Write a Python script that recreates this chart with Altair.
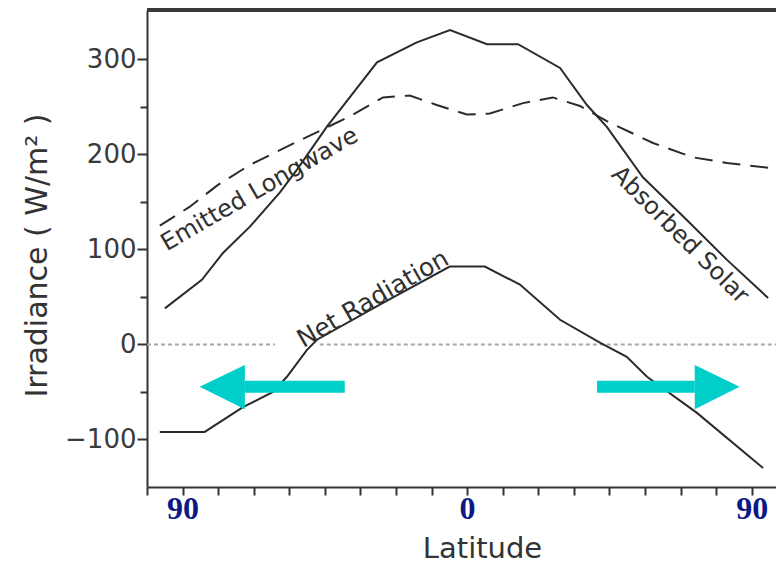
import altair as alt
import pandas as pd

# ---------------- data ----------------
X_MIN, X_MAX = -101.25, 97.7
Y_MIN, Y_MAX = -150, 352

x_ticks = [-101.25, -90, -78.75, -67.5, -56.25, -45, -33.75, -22.5, -11.25,
           0, 11.25, 22.5, 33.75, 45, 56.25, 67.5, 78.75, 90]
y_ticks = [-100, -50, 0, 50, 100, 150, 200, 250, 300]

solar_lat = [-95.6, -83.9, -77.3, -68.7, -59.2, -53.8, -44.4, -28.5, -15.9, -5.4,
             6.3, 16.1, 29.4, 37.9, 44.2, 55.6, 69.5, 82.2, 95.2]
solar_val = [38, 68, 96, 124, 160, 184, 229, 297, 318, 331,
             316, 316, 291, 252, 229, 176, 131, 89, 49]

lw_lat = [-97.2, -87.7, -78.8, -68.7, -52.8, -37.1, -26.6, -18.1, -9.6, -0.1,
          7.2, 17.7, 27.1, 35.7, 44.2, 58.8, 71.4, 82.2, 95.2]
lw_val = [125, 145, 168, 189, 215, 240, 260, 262, 252, 242,
          243, 254, 260, 251, 235, 212, 197, 191, 186]

net_lat = [-97.2, -83.0, -70.9, -61.4, -57.0, -50.7, -47.5, -27.6, -5.5, 5.6,
           16.7, 29.4, 42.0, 50.5, 56.9, 72.7, 93.6]
net_val = [-92, -92, -66, -50, -34, -6, 5, 42, 82, 82,
           63, 26, 2, -13, -34, -72, -130]

zero_start = [X_MIN, -46.6]
zero_end = [-60.8, X_MAX]

label_text = ["Emitted Longwave", "Absorbed Solar", "Net Radiation"]
label_lat = [-65.6, 67.3, -29.8]
label_val = [163, 115, 48]
label_angle = [330, 45, 330]
label_size = [24, 24, 25]

shaft_start = [-70.3, 41.1]
shaft_end = [-38.7, 72.0]
shaft_val = [-44.5, -44.5]
head_base = [-70.3, 72.0]
head_tip = [-84.6, 86.2]
head_top = [-21.6, -21.6]
head_bottom = [-68.2, -68.2]

CYAN = "#00CEC8"
INK = "#2b2b2b"

# ---------------- encodings ----------------
x_axis = alt.Axis(
    values=x_ticks,
    labelExpr="datum.value == 0 ? '0' : (abs(datum.value) == 90 ? '90' : '')",
    labelFont="Liberation Serif", labelFontWeight="bold", labelFontSize=32,
    labelColor="#0c1a86", labelPadding=-2, labelFlush=False,
    tickSize=8, tickWidth=2, tickColor="#333333",
    domainWidth=2, domainColor="#333333", grid=False,
    title="Latitude", titleFont="DejaVu Sans", titleFontSize=29,
    titleFontWeight="normal", titleColor="#333333",
    titleX=335, titleY=47, titleAlign="center", titleBaseline="top",
)
y_axis = alt.Axis(
    values=y_ticks,
    labelExpr="datum.value == 0 ? '0\u2007' : (datum.value % 100 == 0 ? datum.label : '')",
    labelFont="DejaVu Sans", labelFontSize=26, labelColor="#3a3a3a",
    labelPadding=1,
    tickSize={"condition": {"test": "datum.value % 100 != 0", "value": 7}, "value": 10},
    tickWidth=2, tickColor="#333333",
    domainWidth=2, domainColor="#333333", grid=False,
    title="Irradiance ( W/m\u00b2 )", titleFont="DejaVu Sans", titleFontSize=30,
    titleFontWeight="normal", titleColor="#333333",
    titleAngle=270, titleX=-110, titleY=245, titleAlign="center", titleBaseline="middle",
)
xs = alt.Scale(domain=[X_MIN, X_MAX], nice=False, zero=False)
ys = alt.Scale(domain=[Y_MIN, Y_MAX], nice=False, zero=False)


def X(f):
    return alt.X(f, type="quantitative", scale=xs, axis=x_axis, title="Latitude")


def Y(f):
    return alt.Y(f, type="quantitative", scale=ys, axis=y_axis, title="Irradiance ( W/m\u00b2 )")


solar = pd.DataFrame({"lat": solar_lat, "val": solar_val})
lw = pd.DataFrame({"lat": lw_lat, "val": lw_val})
net = pd.DataFrame({"lat": net_lat, "val": net_val})
zero = pd.DataFrame({"lat": zero_start, "lat2": zero_end, "val": [0, 0]})
labels = pd.DataFrame({"lat": label_lat, "val": label_val, "text": label_text,
                       "angle": label_angle, "size": label_size})
shafts = pd.DataFrame({"lat": shaft_start, "lat2": shaft_end, "val": shaft_val})
heads = pd.DataFrame({
    "side": ["L", "L", "R", "R"],
    "lat": [head_tip[0], head_base[0], head_base[1], head_tip[1]],
    "val": [shaft_val[0], head_top[0], head_top[1], shaft_val[1]],
    "val2": [shaft_val[0], head_bottom[0], head_bottom[1], shaft_val[1]],
})
frame = pd.DataFrame({"lat": [X_MIN], "lat2": [X_MAX], "val": [Y_MAX]})

zero_layer = alt.Chart(zero).mark_rule(
    color="#a8a8a8", strokeWidth=2, strokeDash=[4, 3]
).encode(x=X("lat"), x2="lat2", y=Y("val"))

solar_layer = alt.Chart(solar).mark_line(color=INK, strokeWidth=2).encode(
    x=X("lat"), y=Y("val"))
lw_layer = alt.Chart(lw).mark_line(color=INK, strokeWidth=2, strokeDash=[18, 10]).encode(
    x=X("lat"), y=Y("val"))
net_layer = alt.Chart(net).mark_line(color=INK, strokeWidth=2).encode(
    x=X("lat"), y=Y("val"))

text_layer = alt.Chart(labels).mark_text(
    font="DejaVu Sans", color="#303030", align="center", baseline="middle"
).encode(
    x=X("lat"), y=Y("val"), text="text:N",
    angle=alt.Angle("angle:Q", scale=None),
    size=alt.Size("size:Q", scale=None, legend=None),
)

shaft_layer = alt.Chart(shafts).mark_rule(
    color=CYAN, strokeWidth=12, strokeCap="butt"
).encode(x=X("lat"), x2="lat2", y=Y("val"))

head_layer = alt.Chart(heads).mark_area(color=CYAN, opacity=1).encode(
    x=X("lat"), y=Y("val"), y2="val2", detail="side:N")

frame_layer = alt.Chart(frame).mark_rule(color="#3a3a3a", strokeWidth=4).encode(
    x=X("lat"), x2="lat2", y=Y("val"))

chart = alt.layer(
    zero_layer, solar_layer, lw_layer, net_layer, text_layer,
    shaft_layer, head_layer, frame_layer
).properties(
    width=629, height=477,
    autosize=alt.AutoSizeParams(type="none"),
    padding={"left": 147, "top": 10, "right": 0, "bottom": 82},
    background="white",
).configure_view(stroke=None)

chart.save("out.html", embed_options={"renderer": "svg", "actions": False})
